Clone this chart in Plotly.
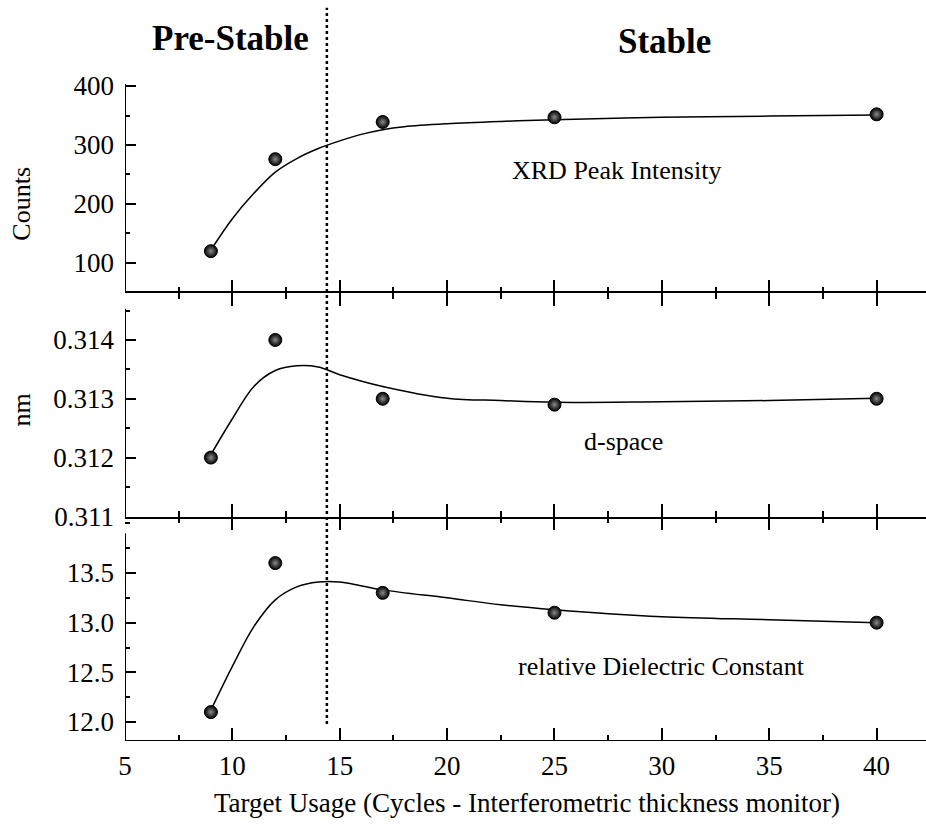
import plotly.graph_objects as go

# ---------------- data ----------------
usage = [9, 12, 17, 25, 40]
xrd_counts = [120, 276, 339, 347, 352]
d_space_nm = [0.3120, 0.3140, 0.3130, 0.3129, 0.3130]
dielectric = [12.1, 13.6, 13.3, 13.1, 13.0]

fit_x = [9, 10, 11, 12, 13, 14, 15, 16, 17, 18, 20, 22.5, 25, 30, 35, 40]
xrd_fit = [122, 175, 218, 254, 277, 294, 307, 318, 326, 331, 336, 340, 343, 347, 349, 351]
dspace_fit_x = [9, 10, 11, 12, 13, 14, 15, 17, 20, 22.5, 25, 30, 35, 40]
dspace_fit = [0.31205, 0.31266, 0.31321, 0.31348, 0.31356, 0.31354, 0.31341,
              0.31321, 0.31301, 0.31297, 0.31294, 0.31295, 0.31297, 0.31301]
diel_fit_x = [9, 10, 11, 12, 13, 14, 15, 17, 20, 22.5, 25, 30, 35, 40]
diel_fit = [12.12, 12.56, 12.96, 13.23, 13.36, 13.41, 13.41, 13.33, 13.25,
            13.18, 13.13, 13.06, 13.03, 13.00]

divider_x = 14.4
x_ticks = [5, 10, 15, 20, 25, 30, 35, 40]
counts_ticks = [100, 200, 300, 400]
nm_ticks = [0.311, 0.312, 0.313, 0.314]
diel_ticks = [12.0, 12.5, 13.0, 13.5]

# ---------------- styling ----------------
FONT = "Liberation Serif"
X_RANGE = [5, 42.3]
R1 = [49.2, 403.4]
R2 = [0.31099, 0.3148]
R3 = [11.809, 14.064]
D3 = [0.0, 0.341]
D2 = [0.341, 0.682]
D1 = [0.682, 1.0]

fig = go.Figure()

marker = dict(size=13, color="black", line=dict(color="black", width=1),
              gradient=dict(type="radial", color="#8a8a8a"))
line = dict(color="black", width=1.5, shape="spline", smoothing=1.0)

fig.add_trace(go.Scatter(x=fit_x, y=xrd_fit, mode="lines", line=line, xaxis="x", yaxis="y", hoverinfo="skip"))
fig.add_trace(go.Scatter(x=usage, y=xrd_counts, mode="markers", marker=marker, xaxis="x", yaxis="y"))
fig.add_trace(go.Scatter(x=dspace_fit_x, y=dspace_fit, mode="lines", line=line, xaxis="x2", yaxis="y2", hoverinfo="skip"))
fig.add_trace(go.Scatter(x=usage, y=d_space_nm, mode="markers", marker=marker, xaxis="x2", yaxis="y2"))
fig.add_trace(go.Scatter(x=diel_fit_x, y=diel_fit, mode="lines", line=line, xaxis="x3", yaxis="y3", hoverinfo="skip"))
fig.add_trace(go.Scatter(x=usage, y=dielectric, mode="markers", marker=marker, xaxis="x3", yaxis="y3"))

def xax(anchor, showline, mirror, labels):
    return dict(domain=[0, 1], range=X_RANGE, anchor=anchor, showline=showline, linecolor="black",
                linewidth=2, mirror=mirror, ticks="inside", ticklen=13, tickwidth=2, tickcolor="black",
                tickvals=x_ticks, showticklabels=labels, showgrid=False, zeroline=False,
                tickfont=dict(family=FONT, size=27, color="black"), ticklabelstandoff=6,
                minor=dict(dtick=2.5, tick0=5, ticks="inside", ticklen=6, tickwidth=1.5,
                           tickcolor="black", showgrid=False))

def yax(anchor, dom, rng, vals, fmt, minor_dtick, minor_tick0):
    return dict(domain=dom, range=rng, anchor=anchor, showline=False, ticks="inside", ticklen=11,
                tickwidth=2, tickcolor="black", tickvals=vals, tickformat=fmt, showgrid=False,
                zeroline=False, tickfont=dict(family=FONT, size=27, color="black"),
                ticklabelstandoff=10,
                minor=dict(dtick=minor_dtick, tick0=minor_tick0, ticks="inside", ticklen=5,
                           tickwidth=1.5, tickcolor="black", showgrid=False))

fig.update_layout(
    width=926, height=836,
    margin=dict(l=125, r=0, t=84, b=95),
    paper_bgcolor="white", plot_bgcolor="white",
    showlegend=False,
    font=dict(family=FONT, color="black"),
    xaxis=xax("y", False, False, False),
    xaxis2=xax("y2", True, "ticks", False),
    xaxis3=xax("y3", False, "ticks", True),
    yaxis=yax("x", D1, R1, counts_ticks, "d", 50, 50),
    yaxis2=yax("x2", D2, R2, nm_ticks, ".3f", 0.0005, 0.3105),
    yaxis3=yax("x3", D3, R3, diel_ticks, ".1f", 0.25, 11.75),
)

# left axis lines (separate per panel, with small gaps as in the original) + bottom axis line
shapes = [
    dict(type="line", xref="x", yref="y", x0=X_RANGE[0], x1=X_RANGE[0], y0=R1[0], y1=R1[1],
         line=dict(color="black", width=2)),
    dict(type="line", xref="x2", yref="y2", x0=X_RANGE[0], x1=X_RANGE[0], y0=0.3109, y1=0.31453,
         line=dict(color="black", width=2)),
    dict(type="line", xref="x3", yref="y3", x0=X_RANGE[0], x1=X_RANGE[0], y0=R3[0], y1=13.90,
         line=dict(color="black", width=2)),
    dict(type="line", xref="x3", yref="y3", x0=X_RANGE[0], x1=X_RANGE[1], y0=R3[0], y1=R3[0],
         line=dict(color="black", width=2)),
    dict(type="line", xref="x", yref="paper", x0=divider_x, x1=divider_x, y0=0.026, y1=1.116,
         line=dict(color="black", width=2.5, dash="dot")),
]
fig.update_layout(shapes=shapes)

ann_font = dict(family=FONT, size=26, color="black")
def ann(text, xref, yref, x, y, font, angle=0):
    return dict(text=text, xref=xref, yref=yref, x=x, y=y, showarrow=False, font=font,
                xanchor="center", yanchor="middle", textangle=angle)

annotations = [
    ann("Pre-Stable", "x", "paper", 9.9, 1.070, dict(family=FONT, size=35, color="black", weight="bold")),
    ann("Stable", "x", "paper", 30.1, 1.064, dict(family=FONT, size=35, color="black", weight="bold")),
    ann("XRD Peak Intensity", "x", "y", 27.9, 257, ann_font),
    ann("d-space", "x2", "y2", 28.2, 0.31227, ann_font),
    ann("relative Dielectric Constant", "x3", "y3", 30.0, 12.56, ann_font),
    ann("Target Usage (Cycles - Interferometric thickness monitor)", "x3", "paper", 23.7, -0.094,
        dict(family=FONT, size=27, color="black")),
    ann("Counts", "paper", "y", -0.129, 200, ann_font, -90),
    ann("nm", "paper", "y2", -0.129, 0.31281, ann_font, -90),
]
fig.update_layout(annotations=annotations)

fig.write_html("out.html")
